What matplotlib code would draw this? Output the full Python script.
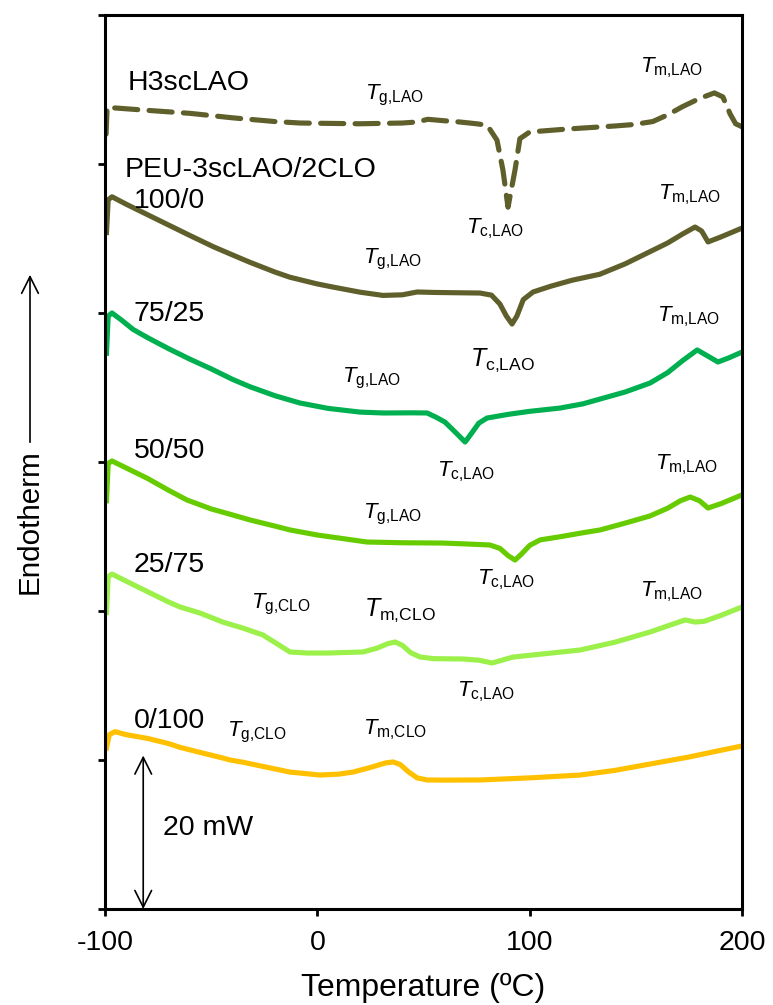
import matplotlib
matplotlib.use("Agg")
import matplotlib.pyplot as plt
from matplotlib import font_manager

# condensed font for the axis texts if we have one
names = {f.name for f in font_manager.fontManager.ttflist}
if "Liberation Sans Narrow" in names:
    narrow, nscale = "Liberation Sans Narrow", 1.0
else:
    narrow, nscale = "Liberation Sans", 0.82

plt.rcParams["font.family"] = ["Liberation Sans", "DejaVu Sans"]
plt.rcParams["mathtext.fontset"] = "custom"
plt.rcParams["mathtext.rm"] = "Liberation Sans"
plt.rcParams["mathtext.it"] = "Liberation Sans:italic"
plt.rcParams["axes.unicode_minus"] = False

# DSC traces (temperature in C, heat flow in units of 20 mW, offset)
h3_x = [-99.5, -99, -80, -60, -40, -20, -8, 20, 40, 47, 52, 60, 67, 75, 80, 84.6, 87.4, 89.8,
        93.1, 95.4, 100, 118, 140, 149, 158, 165, 172, 180, 187, 191, 194.4, 197, 200]
h3_y = [5.20, 5.38, 5.36, 5.34, 5.31, 5.285, 5.275, 5.27, 5.275, 5.282, 5.30, 5.29, 5.282, 5.27,
        5.26, 5.16, 4.96, 4.71, 4.96, 5.17, 5.215, 5.235, 5.255, 5.265, 5.285, 5.33, 5.385, 5.44,
        5.477, 5.45, 5.336, 5.27, 5.25]

p100_x = [-99.3, -98.5, -96.7, -90, -80, -70, -60, -49, -40, -31.7, -20, -12.9, 0, 7.4, 20, 30.9,
          40, 47, 55, 65, 76.6, 82, 86, 89, 91.7, 94, 97, 101.6, 110, 120, 133, 145, 155, 165,
          172, 177.9, 181, 184, 190, 200]
p100_y = [4.54, 4.76, 4.78, 4.73, 4.66, 4.59, 4.52, 4.445, 4.39, 4.34, 4.275, 4.24, 4.195, 4.174,
          4.14, 4.118, 4.122, 4.141, 4.138, 4.136, 4.134, 4.12, 4.06, 3.98, 3.926, 3.98, 4.09,
          4.141, 4.18, 4.22, 4.26, 4.33, 4.40, 4.47, 4.53, 4.577, 4.55, 4.477, 4.51, 4.57]

p75_x = [-99.3, -98.5, -96.7, -92, -86.8, -80, -70, -60, -50, -40, -31.7, -20, -8.2, 5, 20, 30.9,
         45, 51.7, 56, 60.1, 65, 69.6, 73, 76, 79.9, 90, 100, 114.3, 125, 135, 145, 156.7, 165,
         172, 178.9, 184, 188.7, 194, 200]
p75_y = [3.73, 3.98, 4.00, 3.95, 3.89, 3.835, 3.76, 3.69, 3.625, 3.555, 3.505, 3.445, 3.396, 3.36,
         3.335, 3.329, 3.33, 3.329, 3.30, 3.268, 3.20, 3.134, 3.20, 3.26, 3.295, 3.32, 3.34, 3.362,
         3.39, 3.43, 3.47, 3.53, 3.60, 3.68, 3.752, 3.71, 3.671, 3.70, 3.738]

p50_x = [-99.3, -98.5, -96.7, -90, -80, -70, -61.4, -50, -40, -31.7, -20, -12.9, 0, 10, 23.4,
         40, 59.2, 70, 81.3, 86, 90, 93.1, 96, 100, 104.9, 115, 125, 133.2, 145, 156.7, 165, 171,
         175.6, 180, 184, 190, 200]
p50_y = [2.74, 2.99, 3.007, 2.96, 2.89, 2.81, 2.745, 2.685, 2.645, 2.611, 2.57, 2.544, 2.51, 2.49,
         2.463, 2.458, 2.456, 2.45, 2.443, 2.42, 2.37, 2.342, 2.38, 2.44, 2.477, 2.50, 2.525,
         2.544, 2.59, 2.638, 2.69, 2.74, 2.765, 2.74, 2.691, 2.72, 2.779]

p25_x = [-99.3, -98.5, -96.7, -90, -80, -70, -64.7, -55, -44.4, -35, -25.6, -19, -12.9, -5, 5,
         21.5, 28, 33, 36.6, 40, 44, 48.4, 55, 68.6, 76, 82.3, 87, 92.2, 105, 123.7, 140, 156.7,
         165, 173.2, 177.9, 182, 190, 200]
p25_y = [1.99, 2.23, 2.248, 2.20, 2.13, 2.06, 2.027, 1.985, 1.925, 1.885, 1.839, 1.78, 1.725,
         1.718, 1.718, 1.725, 1.75, 1.78, 1.792, 1.77, 1.72, 1.691, 1.68, 1.678, 1.67, 1.651,
         1.67, 1.691, 1.71, 1.738, 1.79, 1.859, 1.90, 1.940, 1.926, 1.93, 1.97, 2.027]

p0_x = [-99.3, -98, -95.3, -90, -80, -70, -64.7, -55, -45, -41.1, -35, -25, -12.9, 1.3, 10, 16.8,
        25, 32, 35.7, 39, 43, 47, 51.7, 60, 76.6, 100, 123.7, 140, 156.7, 175, 190, 200]
p0_y = [1.08, 1.17, 1.19, 1.17, 1.145, 1.11, 1.085, 1.05, 1.015, 1.0, 0.985, 0.955, 0.919, 0.899,
        0.905, 0.919, 0.95, 0.98, 0.987, 0.97, 0.92, 0.88, 0.866, 0.865, 0.866, 0.88, 0.899,
        0.93, 0.973, 1.02, 1.065, 1.094]

olive = "#5F5F2B"
colors = {"100/0": olive, "75/25": "#00B050", "50/50": "#66CC00",
          "25/75": "#9BF04A", "0/100": "#FFC000"}
lw = 3.7

fig = plt.figure(figsize=(7.73, 10.05), dpi=100)
ax = fig.add_axes([105 / 773, 96 / 1005, 637 / 773, 894 / 1005])

ax.plot(h3_x, h3_y, color=olive, lw=lw, linestyle=(0, (4.5, 2.2)), dash_capstyle="round",
        dash_joinstyle="round")
ax.plot(p100_x, p100_y, color=colors["100/0"], lw=lw, solid_joinstyle="round")
ax.plot(p75_x, p75_y, color=colors["75/25"], lw=lw, solid_joinstyle="round")
ax.plot(p50_x, p50_y, color=colors["50/50"], lw=lw, solid_joinstyle="round")
ax.plot(p25_x, p25_y, color=colors["25/75"], lw=lw, solid_joinstyle="round")
ax.plot(p0_x, p0_y, color=colors["0/100"], lw=lw, solid_joinstyle="round")

ax.set_xlim(-100, 200)
ax.set_ylim(0, 6)
ax.set_xticks([-100, 0, 100, 200])
ax.set_yticks(range(7))
ax.set_yticklabels([])
for s in ax.spines.values():
    s.set_linewidth(2.2)
ax.tick_params(direction="out", length=5, width=2, pad=10)
for lab in ax.get_xticklabels():
    lab.set_fontfamily(narrow)
    lab.set_fontsize(25 * nscale)
ax.set_xlabel("Temperature (ºC)", fontfamily=narrow, fontsize=28 * nscale, labelpad=12)

# sample names
ax.text(-89.2, 5.544, "H3scLAO", fontsize=20.5, va="center")
ax.text(-90.6, 4.96, "PEU-3scLAO/2CLO", fontsize=20.5, va="center")
for name, ypos in [("100/0", 4.752), ("75/25", 3.993), ("50/50", 3.074),
                   ("25/75", 2.309), ("0/100", 1.262)]:
    ax.text(-86.5, ypos, name, fontsize=20.5, va="center")

# transition labels
labels = [
    (22.5, 5.463, "g", 16), (152.0, 5.644, "m", 16), (70.0, 4.564, "c", 16),
    (160.4, 4.792, "m", 16), (21.5, 4.362, "g", 16), (71.9, 3.685, "c", 18),
    (160.0, 3.973, "m", 16), (11.6, 3.564, "g", 16), (56.4, 2.933, "c", 16),
    (159.0, 2.980, "m", 16), (21.5, 2.651, "g", 16), (75.2, 2.208, "c", 16),
    (-31.2, 2.047, "g", 16, "CLO"), (22.0, 2.007, "m", 18, "CLO"), (65.8, 1.456, "c", 16),
    (152.0, 2.128, "m", 16), (-42.5, 1.188, "g", 16, "CLO"), (21.5, 1.201, "m", 16, "CLO"),
]
for item in labels:
    lx, ly, kind, fs = item[:4]
    comp = item[4] if len(item) > 4 else "LAO"
    ax.text(lx, ly, r"$T_{\mathrm{" + kind + "{,}" + comp + "}}$", fontsize=fs, va="center")

# 20 mW scale bar
ax.annotate("", xy=(-82, 0), xytext=(-82, 1.03),
            arrowprops=dict(arrowstyle="<->,head_length=0.6,head_width=0.3",
                            lw=1.2, color="black", mutation_scale=20, shrinkA=0, shrinkB=0))
ax.text(-72.7, 0.544, "20 mW", fontsize=20.5, va="center")

# y label with arrow
fig.text(30 / 773, 1 - 522 / 1005, "Endotherm", rotation=90, ha="center", va="center",
         fontfamily=narrow, fontsize=26 * nscale)
fig.add_artist(matplotlib.patches.FancyArrowPatch(
    (30 / 773, 1 - 445 / 1005), (30 / 773, 1 - 272 / 1005), transform=fig.transFigure,
    arrowstyle="->,head_length=0.6,head_width=0.3", mutation_scale=20, lw=1.2, color="black"))

fig.savefig("out.png", dpi=100)
